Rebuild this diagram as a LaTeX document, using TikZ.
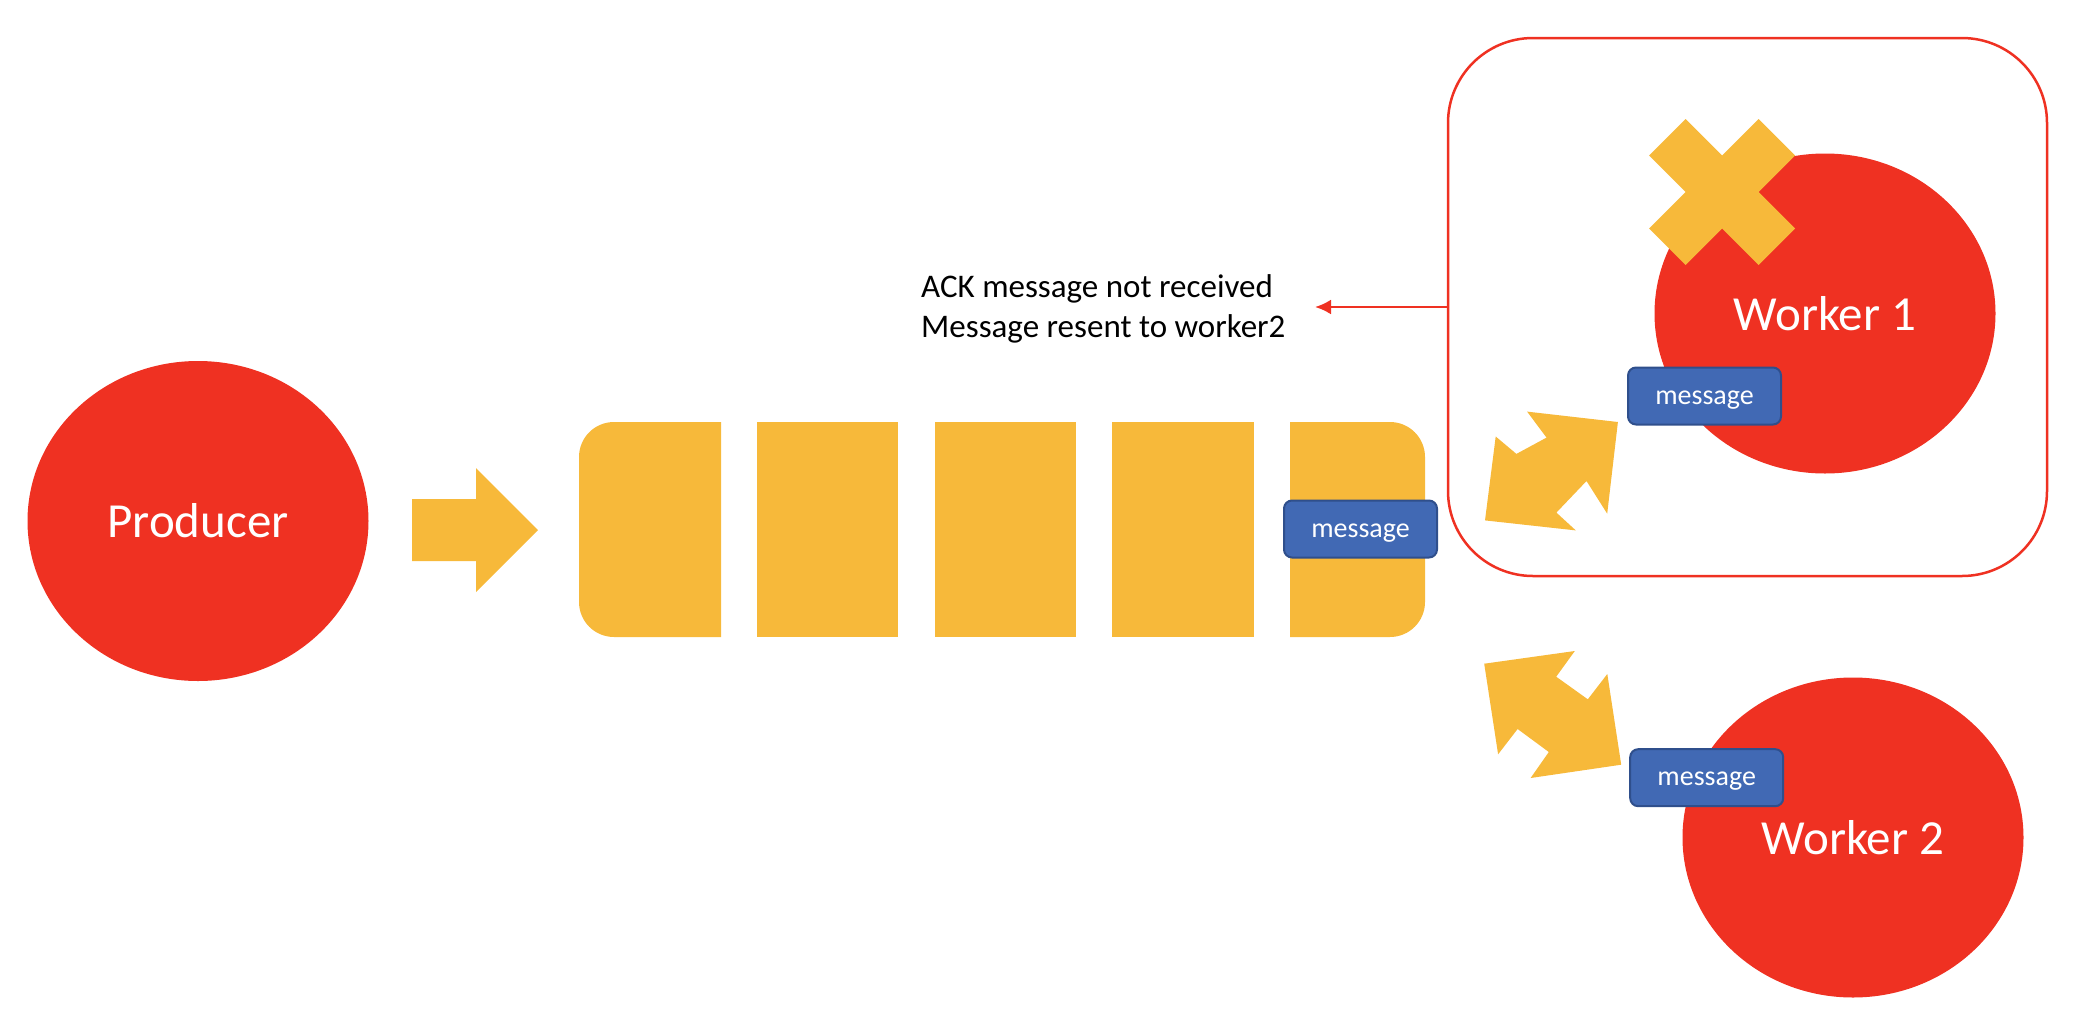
\documentclass[tikz,border=0pt]{standalone}
\usepackage{fontspec}
\setmainfont{Carlito}
\usetikzlibrary{shapes.geometric,arrows.meta}
\definecolor{wred}{RGB}{239,49,34}
\definecolor{qyel}{RGB}{247,185,58}
\definecolor{mblue}{RGB}{65,105,180}
\definecolor{mbord}{RGB}{47,79,140}
\begin{document}
\begin{tikzpicture}[x=1pt,y=-1pt,
  actor/.style={ellipse, fill=wred, text=white, inner sep=0pt,
    minimum width=341pt, minimum height=320pt, font=\fontsize{49}{59}\selectfont},
  msg/.style={rectangle, rounded corners=8pt, fill=mblue, draw=mbord, line width=2pt,
    text=white, minimum width=153pt, minimum height=57pt, inner sep=0pt,
    text height=16pt, text depth=0pt,
    font=\fontsize{28}{33}\selectfont},
  yel/.style={fill=qyel},
  seg/.style={rectangle, fill=qyel, inner sep=0pt, minimum height=215pt},
  ackline/.style={draw=wred, line width=2.5pt, -{Latex[length=16pt,width=15pt]}},
  ]
\useasboundingbox (0,0) rectangle (2094,1018);

% worker 1 frame
\node[draw=wred, line width=2.5pt, rounded corners=85pt,
      minimum width=599pt, minimum height=538pt] (w1box) at (1747.5,307) {};

% actors
\node[actor] (producer) at (198,521) {Producer};
\node[actor] (worker1) at (1825,313.5) {Worker 1};
\node[actor] (worker2) at (1853,837.5) {Worker 2};

% X mark on worker 1
\fill[yel, shift={(1722,192)}] (-73,-36.5) -- (-36.5,-73) -- (0,-36.5) -- (36.5,-73)
  -- (73,-36.5) -- (36.5,0) -- (73,36.5) -- (36.5,73) -- (0,36.5) -- (-36.5,73)
  -- (-73,36.5) -- (-36.5,0) -- cycle;

% producer arrow
\fill[yel] (412,499) -- (476,499) -- (476,468) -- (538,530) -- (476,592)
  -- (476,561) -- (412,561) -- cycle;

% queue
\fill[yel] (721,422) -- (721,637) -- (614,637) arc[start angle=90, end angle=180, radius=35]
  -- (579,457) arc[start angle=180, end angle=270, radius=35] -- cycle;
\node[seg, minimum width=141pt] (q2) at (827.5,529.5) {};
\node[seg, minimum width=141pt] (q3) at (1005.5,529.5) {};
\node[seg, minimum width=142pt] (q4) at (1183,529.5) {};
\fill[yel] (1290,422) -- (1390,422) arc[start angle=270, end angle=360, radius=35]
  -- (1425,602) arc[start angle=0, end angle=90, radius=35] -- (1290,637) -- cycle;

% double arrows
\fill[yel] (1527.1,411.6) -- (1617.9,422.0) -- (1607.2,513.7) -- (1586.5,481.0)
  -- (1556.4,512.6) -- (1575.8,530.4) -- (1485.0,520.4) -- (1495.7,436.5)
  -- (1516.4,453.9) -- (1546.5,437.6) -- cycle;
\fill[yel] (1484.2,663.7) -- (1574.8,651.0) -- (1556.2,676.7) -- (1587.8,699.3)
  -- (1607.3,674.0) -- (1621.2,764.7) -- (1530.6,778.0) -- (1548.8,752.0)
  -- (1517.6,729.0) -- (1498.1,754.3) -- cycle;

% messages
\node[msg] (mq) at (1360.5,529) {message};
\node[msg] (m1) at (1704.5,396) {message};
\node[msg] (m2) at (1706.7,777.7) {message};

% note and connector
\node[anchor=west, align=left, inner sep=0pt, font=\fontsize{33}{40}\selectfont] (note)
  at (921,309) {ACK message not received\\Message resent to worker2};
\coordinate (acktip) at (1315,307);
\draw[ackline] (w1box.west) -- (acktip |- w1box.west);
\end{tikzpicture}
\end{document}
